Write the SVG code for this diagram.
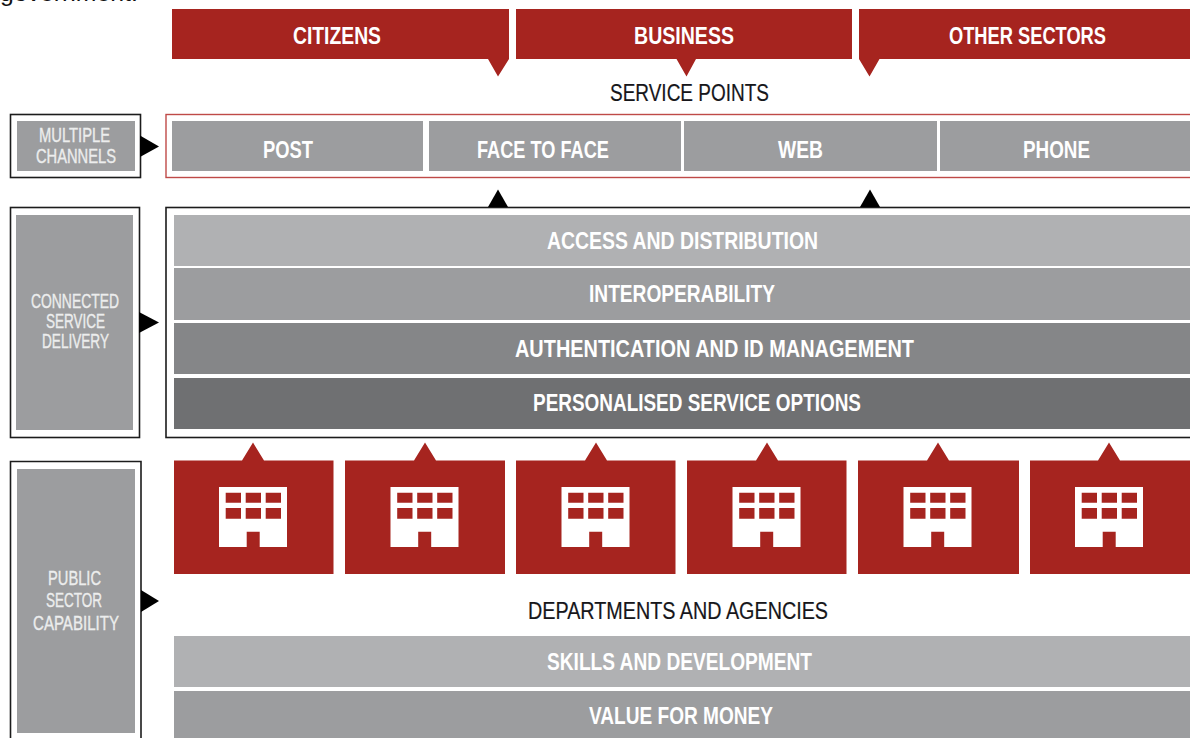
<svg xmlns="http://www.w3.org/2000/svg" width="1190" height="738" viewBox="0 0 1190 738">
<style>
text{font-family:"Liberation Sans Narrow","Liberation Sans",Arial,sans-serif}
.h{font-size:23.500px;font-weight:700;fill:#fff}
.s{font-size:19.500px;fill:#eceded;stroke:#eceded;stroke-width:.35}
.d{font-size:23.500px;fill:#16161a;stroke:#16161a;stroke-width:.2}
.red{fill:#a6241f}
.g1{fill:#b0b1b3}.g2{fill:#9c9d9f}.g3{fill:#858688}.g4{fill:#6f7072}
.frame{fill:#fff;stroke:#1c1c1c;stroke-width:1.6}
.rf{fill:#fff;stroke:#bf4a48;stroke-width:1.4}
.arrow{fill:#000}
</style>
<defs>
<g id="bld"><path fill="#fff" fill-rule="evenodd" d="M219 487H287V547H259.700V531.700H246.700V547H219ZM225.700 492.700V502.700H241V492.700ZM245.700 492.700V502.700H261V492.700ZM265.700 492.700V502.700H281V492.700ZM225.700 508V518.700H241V508ZM245.700 508V518.700H261V508ZM265.700 508V518.700H281V508Z"/></g>
</defs>
<rect width="1190" height="738" fill="#fff"/>
<text x="0" y="1" font-size="24.800" fill="#111" style="font-family:'Liberation Sans',Arial,sans-serif">government.</text>

<g id="citizens"><polygon class="red" points="172,9 509,9 509,59 498,76.500 488,59 172,59"/><text class="h" x="293" y="44" textLength="88" lengthAdjust="spacingAndGlyphs">CITIZENS</text></g>
<g id="business"><polygon class="red" points="516,9 852,9 852,59 696,59 686.500,76.500 676.500,59 516,59"/><text class="h" x="634" y="44" textLength="100" lengthAdjust="spacingAndGlyphs">BUSINESS</text></g>
<g id="other-sectors"><polygon class="red" points="859,9 1190,9 1190,59 879.500,59 869.500,76.500 859,59"/><text class="h" x="949" y="44" textLength="157" lengthAdjust="spacingAndGlyphs">OTHER SECTORS</text></g>
<g id="service-points"><text class="d" x="610" y="101" textLength="159" lengthAdjust="spacingAndGlyphs">SERVICE POINTS</text></g>

<g id="multiple-channels"><rect class="frame" x="10.500" y="114.500" width="130" height="63"/><rect class="g2" x="17" y="121" width="118" height="50"/><text class="s" x="39" y="141.500" textLength="71" lengthAdjust="spacingAndGlyphs">MULTIPLE</text><text class="s" x="36" y="162.500" textLength="80" lengthAdjust="spacingAndGlyphs">CHANNELS</text></g>
<g id="channels-frame"><rect class="rf" x="166" y="114.500" width="1030" height="63"/></g>
<g id="post"><rect class="g2" x="172" y="121" width="251" height="50"/><text class="h" x="263" y="157.500" textLength="50" lengthAdjust="spacingAndGlyphs">POST</text></g>
<g id="face-to-face"><rect class="g2" x="429" y="121" width="252" height="50"/><text class="h" x="477" y="157.500" textLength="132" lengthAdjust="spacingAndGlyphs">FACE TO FACE</text></g>
<g id="web"><rect class="g2" x="684" y="121" width="253" height="50"/><text class="h" x="778" y="157.500" textLength="45" lengthAdjust="spacingAndGlyphs">WEB</text></g>
<g id="phone"><rect class="g2" x="940" y="121" width="250" height="50"/><text class="h" x="1023" y="157.500" textLength="67" lengthAdjust="spacingAndGlyphs">PHONE</text></g>

<g id="connected-service-delivery"><rect class="frame" x="10.500" y="207.500" width="129" height="230"/><rect class="g2" x="16" y="215" width="117" height="215"/><text class="s" x="31" y="307.500" textLength="88" lengthAdjust="spacingAndGlyphs">CONNECTED</text><text class="s" x="46" y="327.500" textLength="59" lengthAdjust="spacingAndGlyphs">SERVICE</text><text class="s" x="42" y="348" textLength="67" lengthAdjust="spacingAndGlyphs">DELIVERY</text></g>
<g id="delivery-frame"><rect class="frame" x="166" y="207.500" width="1030" height="230"/></g>
<g id="access"><rect class="g1" x="174" y="215" width="1016" height="51"/><text class="h" x="547" y="248.500" textLength="271" lengthAdjust="spacingAndGlyphs">ACCESS AND DISTRIBUTION</text></g>
<g id="interoperability"><rect class="g2" x="174" y="268" width="1016" height="52"/><text class="h" x="589" y="302" textLength="186" lengthAdjust="spacingAndGlyphs">INTEROPERABILITY</text></g>
<g id="authentication"><rect class="g3" x="174" y="323" width="1016" height="51"/><text class="h" x="515" y="356.500" textLength="399" lengthAdjust="spacingAndGlyphs">AUTHENTICATION AND ID MANAGEMENT</text></g>
<g id="personalised"><rect class="g4" x="174" y="378" width="1016" height="51"/><text class="h" x="533" y="411" textLength="328" lengthAdjust="spacingAndGlyphs">PERSONALISED SERVICE OPTIONS</text></g>

<g id="public-sector-capability"><path class="frame" d="M10.500 745V461.500H141V745"/><rect class="g2" x="17" y="469" width="118" height="264"/><text class="s" x="48" y="584.500" textLength="53" lengthAdjust="spacingAndGlyphs">PUBLIC</text><text class="s" x="46" y="606.500" textLength="56" lengthAdjust="spacingAndGlyphs">SECTOR</text><text class="s" x="33" y="630" textLength="86" lengthAdjust="spacingAndGlyphs">CAPABILITY</text></g>

<g id="agency-1"><polygon class="red" points="174,460.500 242,460.500 253,442.500 264,460.500 333.500,460.500 333.500,574 174,574"/><use href="#bld"/></g>
<g id="agency-2"><polygon class="red" points="345,460.500 414,460.500 425,442.500 436,460.500 505,460.500 505,574 345,574"/><use href="#bld" x="171.500"/></g>
<g id="agency-3"><polygon class="red" points="516,460.500 585,460.500 596,442.500 607,460.500 675.500,460.500 675.500,574 516,574"/><use href="#bld" x="342.500"/></g>
<g id="agency-4"><polygon class="red" points="687,460.500 756,460.500 767,442.500 778,460.500 846.500,460.500 846.500,574 687,574"/><use href="#bld" x="513.500"/></g>
<g id="agency-5"><polygon class="red" points="858,460.500 927,460.500 938,442.500 949,460.500 1019,460.500 1019,574 858,574"/><use href="#bld" x="684.500"/></g>
<g id="agency-6"><polygon class="red" points="1030,460.500 1098,460.500 1109,442.500 1120,460.500 1190,460.500 1190,574 1030,574"/><use href="#bld" x="856"/></g>
<g id="departments"><text class="d" x="528" y="618.500" textLength="300" lengthAdjust="spacingAndGlyphs">DEPARTMENTS AND AGENCIES</text></g>
<g id="skills"><rect class="g1" x="174" y="636" width="1016" height="51"/><text class="h" x="547" y="669.500" textLength="265" lengthAdjust="spacingAndGlyphs">SKILLS AND DEVELOPMENT</text></g>
<g id="value"><rect class="g2" x="174" y="691" width="1016" height="47"/><text class="h" x="589" y="724" textLength="184" lengthAdjust="spacingAndGlyphs">VALUE FOR MONEY</text></g>

<g id="connectors">
<polygon class="arrow" points="140,135.500 159,146.500 140,157"/>
<polygon class="arrow" points="139,312 159,322.500 139,333"/>
<polygon class="arrow" points="141,590 159,601 141,612"/>
<polygon class="arrow" points="488,207 498,189.500 508,207"/>
<polygon class="arrow" points="860,207 870,189.500 880,207"/>
</g>
</svg>
